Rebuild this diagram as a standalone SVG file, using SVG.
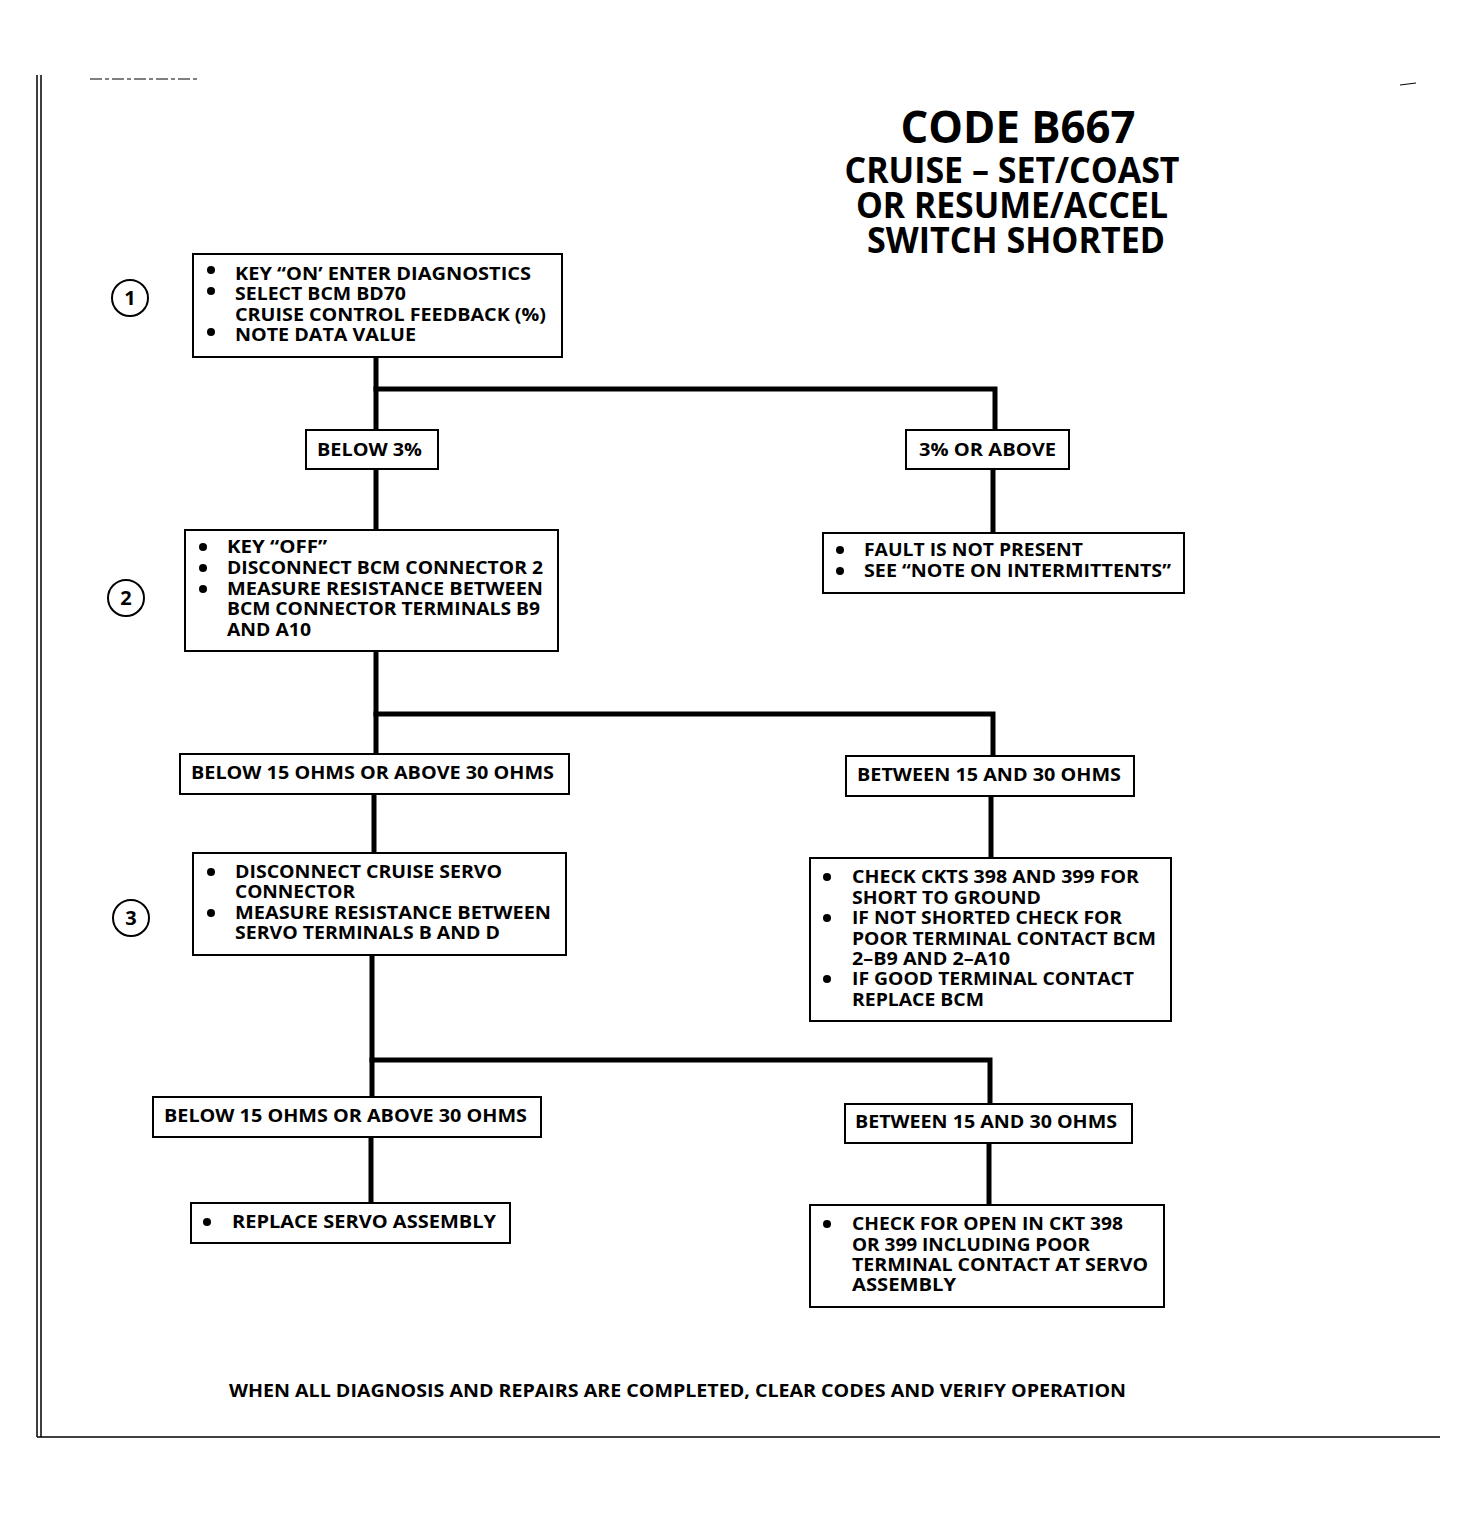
<svg xmlns="http://www.w3.org/2000/svg" width="1477" height="1513" viewBox="0 0 1477 1513">
<style>
.box{fill:#fff;stroke:#000;stroke-width:2}
.t{font-family:"Open Sans","Liberation Sans",sans-serif;font-weight:bold;font-size:18px;fill:#000}
.h{font-family:"Open Sans","Liberation Sans",sans-serif;font-weight:bold;fill:#000}
.c{fill:none;stroke:#000;stroke-width:5;stroke-linecap:square}
.circ{fill:#fff;stroke:#000;stroke-width:2}
.n{font-family:"Open Sans","Liberation Sans",sans-serif;font-weight:bold;font-size:20px;text-anchor:middle}
</style>
<rect width="1477" height="1513" fill="#fff"/>
<g id="frame" stroke="#000" fill="none">
<line x1="37" y1="75" x2="37" y2="1437" stroke-width="1.5"/>
<line x1="41" y1="75" x2="41" y2="1437" stroke-width="1.5"/>
<line x1="37" y1="1437" x2="1440" y2="1437" stroke-width="1.5"/>
<line x1="90" y1="79" x2="197" y2="79" stroke-width="1" stroke-dasharray="12,3,4,3"/>
<line x1="1400" y1="85" x2="1416" y2="83" stroke-width="1"/>
</g>
<g id="title">
<text class="h" x="1018" y="143" font-size="44" text-anchor="middle" textLength="235" lengthAdjust="spacingAndGlyphs">CODE B667</text>
<text class="h" x="1012" y="183" font-size="35" text-anchor="middle" textLength="335" lengthAdjust="spacingAndGlyphs">CRUISE – SET/COAST</text>
<text class="h" x="1012" y="218" font-size="35" text-anchor="middle" textLength="312" lengthAdjust="spacingAndGlyphs">OR RESUME/ACCEL</text>
<text class="h" x="1016" y="253" font-size="35" text-anchor="middle" textLength="298" lengthAdjust="spacingAndGlyphs">SWITCH SHORTED</text>
</g>
<g id="connectors">
<polyline class="c" points="376,357 376,432"/>
<polyline class="c" points="376,389 995,389 995,432"/>
<polyline class="c" points="376,469 376,530"/>
<polyline class="c" points="993,469 993,532"/>
<polyline class="c" points="376,651 376,756"/>
<polyline class="c" points="376,714 993,714 993,756"/>
<polyline class="c" points="374,794 374,853"/>
<polyline class="c" points="991,796 991,858"/>
<polyline class="c" points="372,955 372,1097"/>
<polyline class="c" points="372,1060 990,1060 990,1104"/>
<polyline class="c" points="371,1137 371,1203"/>
<polyline class="c" points="989,1143 989,1205"/>
</g>
<g id="step1">
<circle class="circ" cx="130" cy="298" r="18"/>
<text class="n" x="130" y="305">1</text>
</g>
<g id="step2">
<circle class="circ" cx="126" cy="598" r="18"/>
<text class="n" x="126" y="605">2</text>
</g>
<g id="step3">
<circle class="circ" cx="131" cy="918" r="18"/>
<text class="n" x="131" y="925">3</text>
</g>
<g id="box1">
<rect class="box" x="193" y="254" width="369" height="103"/>
<circle cx="211" cy="270" r="4"/><circle cx="211" cy="291" r="4"/><circle cx="211" cy="332" r="4"/>
<text class="t" x="235" y="280" textLength="296" lengthAdjust="spacingAndGlyphs">KEY “ON’ ENTER DIAGNOSTICS</text>
<text class="t" x="235" y="300" textLength="171" lengthAdjust="spacingAndGlyphs">SELECT BCM BD70</text>
<text class="t" x="235" y="321" textLength="311" lengthAdjust="spacingAndGlyphs">CRUISE CONTROL FEEDBACK (%)</text>
<text class="t" x="235" y="341" textLength="181" lengthAdjust="spacingAndGlyphs">NOTE DATA VALUE</text>
</g>
<g id="below3">
<rect class="box" x="306" y="430" width="132" height="39"/>
<text class="t" x="317" y="456" textLength="105" lengthAdjust="spacingAndGlyphs">BELOW 3%</text>
</g>
<g id="above3">
<rect class="box" x="906" y="430" width="163" height="39"/>
<text class="t" x="919" y="456" textLength="137" lengthAdjust="spacingAndGlyphs">3% OR ABOVE</text>
</g>
<g id="box2">
<rect class="box" x="185" y="530" width="373" height="121"/>
<circle cx="203" cy="547" r="4"/><circle cx="203" cy="568" r="4"/><circle cx="203" cy="589" r="4"/>
<text class="t" x="227" y="553" textLength="100" lengthAdjust="spacingAndGlyphs">KEY “OFF”</text>
<text class="t" x="227" y="574" textLength="316" lengthAdjust="spacingAndGlyphs">DISCONNECT BCM CONNECTOR 2</text>
<text class="t" x="227" y="595" textLength="316" lengthAdjust="spacingAndGlyphs">MEASURE RESISTANCE BETWEEN</text>
<text class="t" x="227" y="615" textLength="313" lengthAdjust="spacingAndGlyphs">BCM CONNECTOR TERMINALS B9</text>
<text class="t" x="227" y="636" textLength="84" lengthAdjust="spacingAndGlyphs">AND A10</text>
</g>
<g id="fault">
<rect class="box" x="823" y="533" width="361" height="60"/>
<circle cx="840" cy="550" r="4"/><circle cx="840" cy="571" r="4"/>
<text class="t" x="864" y="556" textLength="219" lengthAdjust="spacingAndGlyphs">FAULT IS NOT PRESENT</text>
<text class="t" x="864" y="577" textLength="307" lengthAdjust="spacingAndGlyphs">SEE “NOTE ON INTERMITTENTS”</text>
</g>
<g id="outrange1">
<rect class="box" x="180" y="754" width="389" height="40"/>
<text class="t" x="191" y="779" textLength="363" lengthAdjust="spacingAndGlyphs">BELOW 15 OHMS OR ABOVE 30 OHMS</text>
</g>
<g id="inrange1">
<rect class="box" x="846" y="756" width="288" height="40"/>
<text class="t" x="857" y="781" textLength="264" lengthAdjust="spacingAndGlyphs">BETWEEN 15 AND 30 OHMS</text>
</g>
<g id="box3">
<rect class="box" x="193" y="853" width="373" height="102"/>
<circle cx="211" cy="872" r="4"/><circle cx="211" cy="913" r="4"/>
<text class="t" x="235" y="878" textLength="267" lengthAdjust="spacingAndGlyphs">DISCONNECT CRUISE SERVO</text>
<text class="t" x="235" y="898" textLength="120" lengthAdjust="spacingAndGlyphs">CONNECTOR</text>
<text class="t" x="235" y="919" textLength="316" lengthAdjust="spacingAndGlyphs">MEASURE RESISTANCE BETWEEN</text>
<text class="t" x="235" y="939" textLength="265" lengthAdjust="spacingAndGlyphs">SERVO TERMINALS B AND D</text>
</g>
<g id="checkckts">
<rect class="box" x="810" y="858" width="361" height="163"/>
<circle cx="827" cy="877" r="4"/><circle cx="827" cy="918" r="4"/><circle cx="827" cy="979" r="4"/>
<text class="t" x="852" y="883" textLength="287" lengthAdjust="spacingAndGlyphs">CHECK CKTS 398 AND 399 FOR</text>
<text class="t" x="852" y="904" textLength="189" lengthAdjust="spacingAndGlyphs">SHORT TO GROUND</text>
<text class="t" x="852" y="924" textLength="270" lengthAdjust="spacingAndGlyphs">IF NOT SHORTED CHECK FOR</text>
<text class="t" x="852" y="945" textLength="304" lengthAdjust="spacingAndGlyphs">POOR TERMINAL CONTACT BCM</text>
<text class="t" x="852" y="965" textLength="158" lengthAdjust="spacingAndGlyphs">2–B9 AND 2–A10</text>
<text class="t" x="852" y="985" textLength="282" lengthAdjust="spacingAndGlyphs">IF GOOD TERMINAL CONTACT</text>
<text class="t" x="852" y="1006" textLength="132" lengthAdjust="spacingAndGlyphs">REPLACE BCM</text>
</g>
<g id="outrange2">
<rect class="box" x="153" y="1097" width="388" height="40"/>
<text class="t" x="164" y="1122" textLength="363" lengthAdjust="spacingAndGlyphs">BELOW 15 OHMS OR ABOVE 30 OHMS</text>
</g>
<g id="inrange2">
<rect class="box" x="845" y="1104" width="287" height="39"/>
<text class="t" x="855" y="1128" textLength="262" lengthAdjust="spacingAndGlyphs">BETWEEN 15 AND 30 OHMS</text>
</g>
<g id="replaceservo">
<rect class="box" x="191" y="1203" width="319" height="40"/>
<circle cx="207" cy="1222" r="4"/>
<text class="t" x="232" y="1228" textLength="264" lengthAdjust="spacingAndGlyphs">REPLACE SERVO ASSEMBLY</text>
</g>
<g id="checkopen">
<rect class="box" x="810" y="1205" width="354" height="102"/>
<circle cx="827" cy="1224" r="4"/>
<text class="t" x="852" y="1230" textLength="271" lengthAdjust="spacingAndGlyphs">CHECK FOR OPEN IN CKT 398</text>
<text class="t" x="852" y="1251" textLength="238" lengthAdjust="spacingAndGlyphs">OR 399 INCLUDING POOR</text>
<text class="t" x="852" y="1271" textLength="296" lengthAdjust="spacingAndGlyphs">TERMINAL CONTACT AT SERVO</text>
<text class="t" x="852" y="1291" textLength="104" lengthAdjust="spacingAndGlyphs">ASSEMBLY</text>
</g>
<g id="footer">
<text class="t" x="229" y="1397" textLength="897" lengthAdjust="spacingAndGlyphs">WHEN ALL DIAGNOSIS AND REPAIRS ARE COMPLETED, CLEAR CODES AND VERIFY OPERATION</text>
</g>
</svg>
